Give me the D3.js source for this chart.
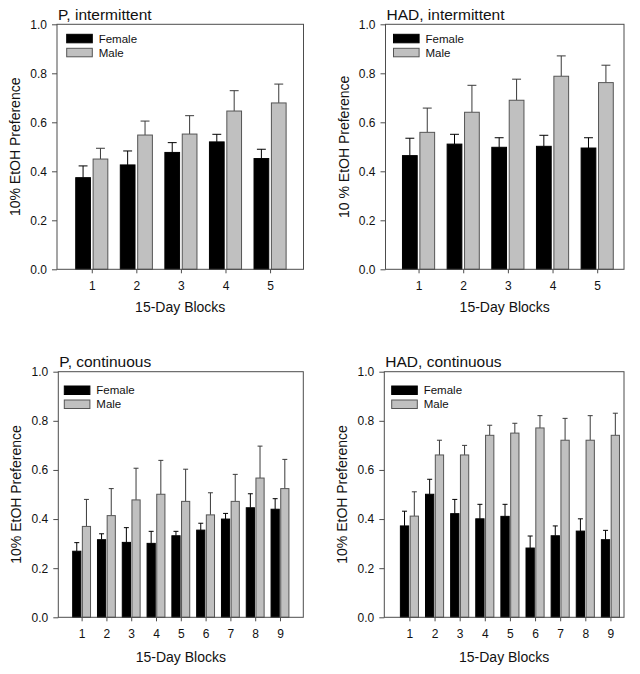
<!DOCTYPE html>
<html>
<head>
<meta charset="utf-8">
<script src="https://cdn.jsdelivr.net/npm/d3@7/dist/d3.min.js"></script>
<style>
  html, body { margin: 0; padding: 0; background: #fff; }
  svg { display: block; font-family: "Liberation Sans", Arial, sans-serif; }
</style>
</head>
<body>
<svg id="chart" width="640" height="674"></svg>
<script>
// ---------- DATA ----------
const blocks5 = [1, 2, 3, 4, 5];
const blocks9 = [1, 2, 3, 4, 5, 6, 7, 8, 9];
const yTicks = [0.0, 0.2, 0.4, 0.6, 0.8, 1.0];
const seriesNames = ["Female", "Male"];

// P, intermittent
const pIntFemale    = [0.374, 0.426, 0.477, 0.520, 0.452];
const pIntFemaleErr = [0.048, 0.057, 0.040, 0.031, 0.038];
const pIntMale      = [0.450, 0.548, 0.552, 0.646, 0.679];
const pIntMaleErr   = [0.044, 0.057, 0.075, 0.083, 0.077];

// HAD, intermittent
const hadIntFemale    = [0.464, 0.511, 0.498, 0.502, 0.495];
const hadIntFemaleErr = [0.071, 0.040, 0.039, 0.045, 0.042];
const hadIntMale      = [0.559, 0.641, 0.690, 0.788, 0.762];
const hadIntMaleErr   = [0.099, 0.110, 0.086, 0.083, 0.071];

// P, continuous
const pConFemale    = [0.269, 0.316, 0.305, 0.301, 0.332, 0.355, 0.400, 0.446, 0.440];
const pConFemaleErr = [0.035, 0.024, 0.060, 0.049, 0.018, 0.028, 0.023, 0.057, 0.043];
const pConMale      = [0.370, 0.414, 0.478, 0.501, 0.472, 0.417, 0.472, 0.567, 0.524];
const pConMaleErr   = [0.110, 0.110, 0.129, 0.138, 0.131, 0.090, 0.110, 0.130, 0.119];

// HAD, continuous
const hadConFemale    = [0.372, 0.501, 0.422, 0.401, 0.411, 0.282, 0.332, 0.351, 0.316];
const hadConFemaleErr = [0.060, 0.061, 0.058, 0.059, 0.049, 0.049, 0.040, 0.050, 0.038];
const hadConMale      = [0.412, 0.661, 0.661, 0.741, 0.750, 0.771, 0.721, 0.721, 0.741];
const hadConMaleErr   = [0.099, 0.060, 0.039, 0.041, 0.040, 0.050, 0.089, 0.100, 0.090];

// ---------- LAYOUT ----------
const panels = [
  { title: "P, intermittent", ylabel: "10% EtOH Preference", blocks: blocks5,
    female: pIntFemale, femaleErr: pIntFemaleErr, male: pIntMale, maleErr: pIntMaleErr,
    box: { l: 57, r: 303.5, t: 24.3, b: 269.3 }, xDom: [0.22, 5.75],
    ylabX: 19.5, xlabY: 312, titleY: 20, leg: { dx: 9.7, dy: 10 } },
  { title: "HAD, intermittent", ylabel: "10 % EtOH Preference", blocks: blocks5,
    female: hadIntFemale, femaleErr: hadIntFemaleErr, male: hadIntMale, maleErr: hadIntMaleErr,
    box: { l: 385.5, r: 624, t: 24.3, b: 269.3 }, xDom: [0.26, 5.6],
    ylabX: 348.5, xlabY: 312, titleY: 20, leg: { dx: 8, dy: 10 } },
  { title: "P, continuous", ylabel: "10% EtOH Preference", blocks: blocks9,
    female: pConFemale, femaleErr: pConFemaleErr, male: pConMale, maleErr: pConMaleErr,
    box: { l: 58.3, r: 303.3, t: 371.7, b: 617.3 }, xDom: [0.06, 9.94],
    ylabX: 21, xlabY: 662, titleY: 367.3, leg: { dx: 6, dy: 14.3 } },
  { title: "HAD, continuous", ylabel: "10% EtOH Preference", blocks: blocks9,
    female: hadConFemale, femaleErr: hadConFemaleErr, male: hadConMale, maleErr: hadConMaleErr,
    box: { l: 384.3, r: 624, t: 371.7, b: 617.3 }, xDom: [0.0, 9.54],
    ylabX: 346.5, xlabY: 662, titleY: 367.3, leg: { dx: 7.4, dy: 14.3 } }
];

const BAR_W = 0.33, GAP = 0.06, CAP = 0.2;
const FEMALE_FILL = "#000000", MALE_FILL = "#c0c0c0";
const FRAME = "#4d4d4d", TEXT = "#111";

const svg = d3.select("#chart");

panels.forEach(p => {
  const g = svg.append("g");
  const x = d3.scaleLinear().domain(p.xDom).range([p.box.l, p.box.r]);
  const y = d3.scaleLinear().domain([0, 1]).range([p.box.b, p.box.t]);
  const unit = x(1) - x(0);

  const series = [
    { name: "Female", vals: p.female, errs: p.femaleErr, fill: FEMALE_FILL, stroke: "#000", err: "#000",
      off: -GAP / 2 - BAR_W },
    { name: "Male", vals: p.male, errs: p.maleErr, fill: MALE_FILL, stroke: "#555", err: "#3a3a3a",
      off: GAP / 2 }
  ];

  series.forEach(s => {
    const data = p.blocks.map((b, i) => ({ b, v: s.vals[i], e: s.errs[i] }));
    // error bars (upward only)
    const eg = g.append("g").attr("stroke", s.err).attr("stroke-width", 1);
    eg.selectAll("line.stem").data(data).join("line")
      .attr("class", "stem")
      .attr("x1", d => x(d.b + s.off + BAR_W / 2))
      .attr("x2", d => x(d.b + s.off + BAR_W / 2))
      .attr("y1", d => y(d.v))
      .attr("y2", d => y(d.v + d.e));
    eg.selectAll("line.cap").data(data).join("line")
      .attr("class", "cap")
      .attr("x1", d => x(d.b + s.off + BAR_W / 2 - CAP / 2))
      .attr("x2", d => x(d.b + s.off + BAR_W / 2 + CAP / 2))
      .attr("y1", d => y(d.v + d.e))
      .attr("y2", d => y(d.v + d.e));
    // bars
    g.append("g").selectAll("rect").data(data).join("rect")
      .attr("x", d => x(d.b + s.off))
      .attr("width", BAR_W * unit)
      .attr("y", d => y(d.v))
      .attr("height", d => y(0) - y(d.v))
      .attr("fill", s.fill)
      .attr("stroke", s.stroke)
      .attr("stroke-width", 1);
  });

  // frame
  g.append("rect")
    .attr("x", p.box.l).attr("y", p.box.t)
    .attr("width", p.box.r - p.box.l).attr("height", p.box.b - p.box.t)
    .attr("fill", "none").attr("stroke", FRAME).attr("stroke-width", 1);

  // axes
  const ya = g.append("g").attr("transform", `translate(${p.box.l},0)`)
    .call(d3.axisLeft(y).tickValues(yTicks).tickFormat(d3.format(".1f")).tickSize(5).tickPadding(5));
  const xa = g.append("g").attr("transform", `translate(0,${p.box.b})`)
    .call(d3.axisBottom(x).tickValues(p.blocks).tickFormat(d3.format("d")).tickSize(4).tickPadding(8));
  [ya, xa].forEach(a => {
    a.select(".domain").remove();
    a.selectAll(".tick line").attr("stroke", FRAME);
    a.selectAll(".tick text").attr("fill", TEXT).style("font-size", "12px")
      .style("font-family", '"Liberation Sans", Arial, sans-serif');
  });

  // title
  g.append("text").attr("x", p.box.l + 1).attr("y", p.titleY)
    .attr("fill", TEXT).style("font-size", "15.5px").text(p.title);

  // y label
  g.append("text")
    .attr("transform", `translate(${p.ylabX},${(p.box.t + p.box.b) / 2}) rotate(-90)`)
    .attr("text-anchor", "middle").attr("fill", TEXT).style("font-size", "14px")
    .text(p.ylabel);

  // x label
  g.append("text")
    .attr("x", (p.box.l + p.box.r) / 2).attr("y", p.xlabY)
    .attr("text-anchor", "middle").attr("fill", TEXT).style("font-size", "14px")
    .text("15-Day Blocks");

  // legend
  const lg = g.append("g").attr("transform", `translate(${p.box.l + p.leg.dx},${p.box.t + p.leg.dy})`);
  seriesNames.forEach((n, i) => {
    const s = series[i];
    lg.append("rect").attr("x", 0).attr("y", i * 14).attr("width", 25.6).attr("height", 8.5)
      .attr("fill", s.fill).attr("stroke", s.stroke).attr("stroke-width", 1);
    lg.append("text").attr("x", 32).attr("y", i * 14 + 4.25).attr("dy", "0.35em")
      .attr("fill", TEXT).style("font-size", "11.5px").text(n);
  });
});
</script>
</body>
</html>
